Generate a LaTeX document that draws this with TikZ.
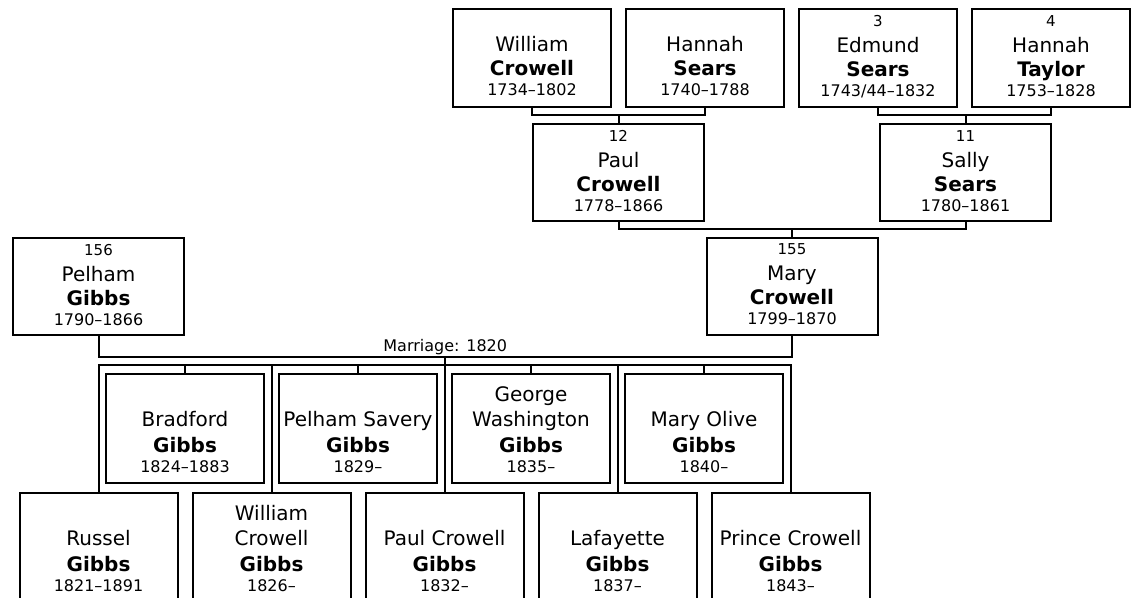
\documentclass[tikz,border=0pt]{standalone}
\usepackage{fontspec}
\setmainfont{DejaVu Sans}
\usetikzlibrary{positioning}
\newcommand{\idno}[1]{{\fontsize{7.5}{8}\selectfont\rule{0pt}{5pt}#1}}
\newcommand{\given}[1]{\rule{0pt}{11pt}#1}
\newcommand{\lifespan}[1]{{\fontsize{8}{9}\selectfont\rule[-2pt]{0pt}{2pt}#1}}

\begin{document}
\begin{tikzpicture}[
    x=0.5pt, y=-0.5pt,
    elder/.style={draw, line width=1pt, inner sep=0pt, align=center,
      minimum width=79pt, minimum height=49pt, font=\fontsize{10}{12}\selectfont},
    parent/.style={elder, minimum width=85.5pt, minimum height=48.5pt},
    child/.style={elder, minimum height=54.5pt, font=\fontsize{10}{12.5}\selectfont},
    link/.style={line width=1pt},
    wedding/.style={anchor=south, inner sep=0pt, yshift=0.5pt, font=\fontsize{8}{9}\selectfont}
  ]
    \clip (0,0) rectangle (1137,598);

    \node[elder] (wcrowell) at (532,58) {\idno{}\\[1pt]William\\\textbf{Crowell}\\[-2pt]\lifespan{1734–1802}};
    \node[elder, right=6.5pt of wcrowell] (hsears) {\idno{}\\[1pt]Hannah\\\textbf{Sears}\\[-2pt]\lifespan{1740–1788}};
    \node[elder, right=6.5pt of hsears] (esears) {\idno{3}\\[1pt]Edmund\\\textbf{Sears}\\[-2pt]\lifespan{1743/44–1832}};
    \node[elder, right=6.5pt of esears] (htaylor) {\idno{4}\\[1pt]Hannah\\\textbf{Taylor}\\[-2pt]\lifespan{1753–1828}};

    \node[parent] (pcrowell) at (618.5,173) {\idno{12}\\[1pt]Paul\\\textbf{Crowell}\\[-2pt]\lifespan{1778–1866}};
    \node[parent] (ssears) at (965.5,173) {\idno{11}\\[1pt]Sally\\\textbf{Sears}\\[-2pt]\lifespan{1780–1861}};

    \node[parent] (pgibbs) at (98.5,286.5) {\idno{156}\\[1pt]Pelham\\\textbf{Gibbs}\\[-2pt]\lifespan{1790–1866}};
    \node[parent] (mcrowell) at (792,286.5) {\idno{155}\\[1pt]Mary\\\textbf{Crowell}\\[-2pt]\lifespan{1799–1870}};

    \node[child] (bradford) at (185,428.5) {\given{}\\Bradford\\[0.5pt]\textbf{Gibbs}\\[-2.5pt]\lifespan{1824–1883}};
    \node[child, right=6.5pt of bradford] (pelhams) {\given{}\\Pelham Savery\\[0.5pt]\textbf{Gibbs}\\[-2.5pt]\lifespan{1829–}};
    \node[child, right=6.5pt of pelhams] (george) {\given{George}\\Washington\\[0.5pt]\textbf{Gibbs}\\[-2.5pt]\lifespan{1835–}};
    \node[child, right=6.5pt of george] (maryolive) {\given{}\\Mary Olive\\[0.5pt]\textbf{Gibbs}\\[-2.5pt]\lifespan{1840–}};

    \node[child] (russel) at (98.5,547.5) {\given{}\\Russel\\[0.5pt]\textbf{Gibbs}\\[-2.5pt]\lifespan{1821–1891}};
    \node[child, right=6.5pt of russel] (williamc) {\given{William}\\Crowell\\[0.5pt]\textbf{Gibbs}\\[-2.5pt]\lifespan{1826–}};
    \node[child, right=6.5pt of williamc] (paulc) {\given{}\\Paul Crowell\\[0.5pt]\textbf{Gibbs}\\[-2.5pt]\lifespan{1832–}};
    \node[child, right=6.5pt of paulc] (lafayette) {\given{}\\Lafayette\\[0.5pt]\textbf{Gibbs}\\[-2.5pt]\lifespan{1837–}};
    \node[child, right=6.5pt of lafayette] (prince) {\given{}\\Prince Crowell\\[0.5pt]\textbf{Gibbs}\\[-2.5pt]\lifespan{1843–}};

    \coordinate[above=4pt of pcrowell.north] (crowellbar);
    \coordinate[above=4pt of ssears.north] (searsbar);
    \coordinate[above=4pt of mcrowell.north] (parentbar);
    \coordinate[below=10.5pt of pgibbs.south] (wed);
    \coordinate[below=4pt of wed] (sib);

    \draw[link] (wcrowell.south) |- (crowellbar) -| (hsears.south) (crowellbar) -- (pcrowell.north);
    \draw[link] (esears.south) |- (searsbar) -| (htaylor.south) (searsbar) -- (ssears.north);
    \draw[link] (pcrowell.south) |- (parentbar) -| (ssears.south) (parentbar) -- (mcrowell.north);
    \draw[link] (pgibbs.south) -- (wed) -- node[wedding] (marr) {Marriage: 1820} (wed -| mcrowell.south) -- (mcrowell.south);
    \draw[link] (marr.south |- wed) -- (marr.south |- sib);
    \draw[link] (russel.north) -- (sib) -| (prince.north);
    \foreach \kid in {bradford,williamc,pelhams,paulc,george,lafayette,maryolive}
      \draw[link] (\kid.north) -- (\kid.north |- sib);
  \end{tikzpicture}
\end{document}
